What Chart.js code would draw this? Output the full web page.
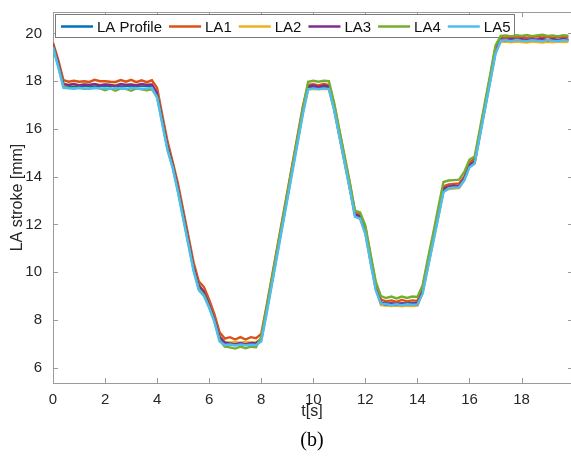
<!DOCTYPE html>
<html>
<head>
<meta charset="utf-8">
<script src="https://cdn.jsdelivr.net/npm/chart.js@4.4.1/dist/chart.umd.min.js"></script>
<style>
  html, body { margin: 0; padding: 0; background: #fff; }
  #wrap { width: 571px; height: 461px; position: relative; }
</style>
</head>
<body>
<div id="wrap"><canvas id="chart" width="571" height="461"></canvas></div>
<script>
// Tiempo de muestreo [s]
const tiempo = [
  0.0, 0.2, 0.4, 0.6, 0.8, 1.0, 1.2, 1.4, 1.6, 1.8,
  2.0, 2.2, 2.4, 2.6, 2.8, 3.0, 3.2, 3.4, 3.6, 3.8,
  4.0, 4.2, 4.4, 4.6, 4.8, 5.0, 5.2, 5.4, 5.6, 5.8,
  6.0, 6.2, 6.4, 6.6, 6.8, 7.0, 7.2, 7.4, 7.6, 7.8,
  8.0, 8.2, 8.4, 8.6, 8.8, 9.0, 9.2, 9.4, 9.6, 9.8,
  10.0, 10.2, 10.4, 10.6, 10.8, 11.0, 11.2, 11.4, 11.6, 11.8,
  12.0, 12.2, 12.4, 12.6, 12.8, 13.0, 13.2, 13.4, 13.6, 13.8,
  14.0, 14.2, 14.4, 14.6, 14.8, 15.0, 15.2, 15.4, 15.6, 15.8,
  16.0, 16.2, 16.4, 16.6, 16.8, 17.0, 17.2, 17.4, 17.6, 17.8,
  18.0, 18.2, 18.4, 18.6, 18.8, 19.0, 19.2, 19.4, 19.6, 19.8
];

const laProfile = [
  19.50, 18.75, 17.90, 17.80, 17.80, 17.80, 17.82, 17.80, 17.80, 17.82,
  17.80, 17.80, 17.82, 17.80, 17.80, 17.82, 17.80, 17.80, 17.82, 17.80,
  17.45, 16.35, 15.25, 14.45, 13.50, 12.40, 11.30, 10.20, 9.42, 9.15,
  8.65, 8.04, 7.28, 7.03, 7.02, 7.00, 7.03, 7.00, 7.02, 7.00,
  7.20, 8.35, 9.55, 10.75, 11.95, 13.15, 14.35, 15.55, 16.75, 17.72,
  17.75, 17.72, 17.75, 17.72, 16.85, 15.75, 14.65, 13.55, 12.45, 12.30,
  11.70, 10.50, 9.35, 8.72, 8.70, 8.68, 8.70, 8.68, 8.70, 8.70,
  8.70, 9.22, 10.30, 11.35, 12.40, 13.45, 13.58, 13.60, 13.62, 13.90,
  14.50, 14.65, 15.80, 16.95, 18.10, 19.25, 19.72, 19.74, 19.72, 19.75,
  19.72, 19.74, 19.72, 19.75, 19.73, 19.72, 19.75, 19.73, 19.74, 19.72
];

const la1 = [
  19.62, 18.90, 18.05, 17.98, 18.02, 17.98, 18.00, 17.97, 18.06, 18.00,
  18.00, 17.98, 17.97, 18.05, 17.98, 18.06, 17.96, 18.04, 17.96, 18.04,
  17.72, 16.58, 15.48, 14.62, 13.72, 12.62, 11.52, 10.42, 9.62, 9.38,
  8.85, 8.25, 7.48, 7.22, 7.28, 7.18, 7.28, 7.18, 7.28, 7.24,
  7.42, 8.55, 9.75, 10.95, 12.15, 13.35, 14.55, 15.75, 16.95, 17.85,
  17.88, 17.82, 17.88, 17.84, 17.02, 15.92, 14.82, 13.72, 12.55, 12.42,
  11.88, 10.68, 9.52, 8.85, 8.78, 8.82, 8.76, 8.84, 8.78, 8.82,
  8.80, 9.35, 10.45, 11.50, 12.55, 13.60, 13.68, 13.70, 13.72, 14.00,
  14.60, 14.75, 15.90, 17.05, 18.22, 19.40, 19.85, 19.82, 19.87, 19.83,
  19.86, 19.82, 19.85, 19.88, 19.83, 19.86, 19.82, 19.87, 19.84, 19.86
];

const la2 = [
  19.50, 18.70, 17.88, 17.85, 17.86, 17.84, 17.86, 17.85, 17.88, 17.84,
  17.86, 17.85, 17.84, 17.88, 17.85, 17.86, 17.84, 17.88, 17.85, 17.86,
  17.50, 16.40, 15.30, 14.48, 13.55, 12.45, 11.35, 10.25, 9.45, 9.18,
  8.68, 8.06, 7.30, 7.08, 7.06, 7.08, 7.05, 7.08, 7.06, 7.08,
  7.15, 8.30, 9.50, 10.70, 11.90, 13.10, 14.30, 15.50, 16.70, 17.65,
  17.68, 17.66, 17.68, 17.66, 16.80, 15.70, 14.60, 13.50, 12.40, 12.22,
  11.62, 10.42, 9.28, 8.62, 8.60, 8.58, 8.60, 8.57, 8.60, 8.58,
  8.60, 9.12, 10.20, 11.25, 12.30, 13.38, 13.48, 13.50, 13.52, 13.85,
  14.40, 14.55, 15.72, 16.88, 18.02, 19.18, 19.64, 19.66, 19.63, 19.66,
  19.64, 19.62, 19.66, 19.64, 19.62, 19.65, 19.63, 19.66, 19.64, 19.65
];

const la3 = [
  19.52, 18.76, 17.88, 17.84, 17.88, 17.82, 17.86, 17.84, 17.88, 17.82,
  17.86, 17.84, 17.80, 17.88, 17.84, 17.86, 17.82, 17.88, 17.84, 17.86,
  17.50, 16.40, 15.30, 14.50, 13.55, 12.45, 11.35, 10.25, 9.45, 9.18,
  8.66, 8.05, 7.30, 7.05, 7.02, 6.98, 7.04, 6.98, 7.04, 7.02,
  7.22, 8.38, 9.58, 10.78, 11.98, 13.18, 14.38, 15.58, 16.78, 17.78,
  17.82, 17.76, 17.82, 17.78, 16.90, 15.80, 14.70, 13.60, 12.40, 12.34,
  11.72, 10.52, 9.36, 8.70, 8.64, 8.70, 8.64, 8.70, 8.66, 8.68,
  8.66, 9.20, 10.30, 11.35, 12.42, 13.50, 13.58, 13.62, 13.60, 13.92,
  14.48, 14.62, 15.80, 16.95, 18.12, 19.28, 19.76, 19.72, 19.78, 19.73,
  19.77, 19.72, 19.76, 19.74, 19.78, 19.72, 19.76, 19.73, 19.77, 19.74
];

const la4 = [
  19.45, 18.65, 17.78, 17.72, 17.70, 17.72, 17.68, 17.70, 17.72, 17.70,
  17.62, 17.70, 17.60, 17.70, 17.68, 17.60, 17.70, 17.66, 17.62, 17.66,
  17.35, 16.25, 15.15, 14.40, 13.40, 12.30, 11.20, 10.10, 9.30, 9.05,
  8.55, 7.95, 7.15, 6.88, 6.85, 6.80, 6.88, 6.82, 6.88, 6.86,
  7.30, 8.48, 9.68, 10.88, 12.08, 13.28, 14.48, 15.68, 16.88, 17.98,
  18.02, 17.98, 18.02, 18.00, 17.10, 15.98, 14.88, 13.78, 12.58, 12.50,
  11.95, 10.75, 9.60, 9.00, 8.92, 8.98, 8.90, 8.98, 8.92, 8.98,
  8.96, 9.45, 10.55, 11.60, 12.70, 13.78, 13.84, 13.86, 13.88, 14.20,
  14.72, 14.85, 16.00, 17.15, 18.30, 19.50, 19.90, 19.92, 19.88, 19.93,
  19.90, 19.94, 19.89, 19.92, 19.95, 19.90, 19.92, 19.88, 19.93, 19.91
];

const la5 = [
  19.40, 18.60, 17.72, 17.70, 17.68, 17.72, 17.70, 17.68, 17.72, 17.70,
  17.70, 17.68, 17.72, 17.70, 17.68, 17.72, 17.70, 17.68, 17.70, 17.72,
  17.30, 16.20, 15.10, 14.35, 13.35, 12.25, 11.15, 10.05, 9.25, 9.00,
  8.50, 7.92, 7.10, 6.95, 6.97, 6.93, 6.97, 6.94, 6.96, 6.95,
  7.10, 8.22, 9.42, 10.62, 11.82, 13.02, 14.22, 15.42, 16.62, 17.66,
  17.70, 17.67, 17.70, 17.67, 16.80, 15.70, 14.60, 13.50, 12.32, 12.25,
  11.60, 10.40, 9.25, 8.68, 8.66, 8.62, 8.66, 8.62, 8.66, 8.64,
  8.65, 9.10, 10.18, 11.22, 12.28, 13.35, 13.52, 13.55, 13.56, 13.85,
  14.40, 14.55, 15.70, 16.85, 18.00, 19.15, 19.70, 19.72, 19.68, 19.73,
  19.70, 19.68, 19.72, 19.70, 19.68, 19.73, 19.70, 19.68, 19.72, 19.70
];

const etiquetas = ["LA Profile", "LA1", "LA2", "LA3", "LA4", "LA5"];
const colores   = ["#0072BD", "#D95319", "#EDB120", "#7E2F8E", "#77AC30", "#4DBEEE"];
const xTicks = [0, 2, 4, 6, 8, 10, 12, 14, 16, 18];
const yTicks = [6, 8, 10, 12, 14, 16, 18, 20];

const FONT = "'Liberation Sans', Arial, sans-serif";
const AXIS = "#9a9a9a";

// ── Ejes tipo MATLAB: caja, ticks hacia dentro y leyenda ─────────────────────
const matlabAxes = {
  id: "matlabAxes",
  beforeDatasetsDraw(chart) {
    const { ctx, chartArea: a, scales: { x, y } } = chart;
    ctx.save();
    ctx.strokeStyle = AXIS;
    ctx.lineWidth = 1;
    ctx.strokeRect(Math.round(a.left) + 0.5, Math.round(a.top) + 0.5,
                   Math.round(a.right - a.left) + 4, Math.round(a.bottom - a.top));
    ctx.beginPath();
    x.ticks.forEach(t => {
      const px = Math.round(x.getPixelForValue(t.value)) + 0.5;
      ctx.moveTo(px, a.bottom); ctx.lineTo(px, a.bottom - 5);
      ctx.moveTo(px, a.top);    ctx.lineTo(px, a.top + 5);
    });
    y.ticks.forEach(t => {
      const py = Math.round(y.getPixelForValue(t.value)) + 0.5;
      ctx.moveTo(a.left, py);  ctx.lineTo(a.left + 5, py);
      ctx.moveTo(a.right + 2, py); ctx.lineTo(a.right - 3, py);
    });
    ctx.stroke();

    // Leyenda horizontal
    ctx.font = "15px " + FONT;
    let px = 61;
    const items = chart.data.datasets.map(ds => {
      const it = { x: px, label: ds.label, color: ds.borderColor };
      px = px + 36 + ctx.measureText(ds.label).width + 7;
      return it;
    });
    const boxL = 55.5, boxT = 14.5, boxB = 37.5;
    const boxR = Math.round(px - 3) + 0.5;
    ctx.fillStyle = "#fff";
    ctx.fillRect(boxL, boxT, boxR - boxL, boxB - boxT);
    ctx.strokeStyle = "#7a7a7a";
    ctx.strokeRect(boxL, boxT, boxR - boxL, boxB - boxT);
    const cy = 26.5;
    items.forEach(it => {
      ctx.strokeStyle = it.color;
      ctx.lineWidth = 2.5;
      ctx.beginPath();
      ctx.moveTo(it.x, cy); ctx.lineTo(it.x + 32, cy);
      ctx.stroke();
      ctx.fillStyle = "#111";
      ctx.textBaseline = "middle";
      ctx.textAlign = "left";
      ctx.fillText(it.label, it.x + 36, cy + 1);
    });
    ctx.restore();
  },
  afterDraw(chart) {
    const { ctx } = chart;
    ctx.save();
    ctx.font = "20px 'Liberation Serif', 'Times New Roman', serif";
    ctx.fillStyle = "#000";
    ctx.textAlign = "center";
    ctx.textBaseline = "middle";
    ctx.fillText("(b)", 312, 441);
    ctx.restore();
  }
};

const datasets = [laProfile, la1, la2, la3, la4, la5].map((serie, i) => ({
  label:       etiquetas[i],
  data:        serie.map((v, k) => ({ x: tiempo[k], y: v })),
  borderColor: colores[i],
  borderWidth: 2.4,
  pointRadius: 0,
  tension:     0,
  fill:        false,
  order:       6 - i, // LA5 encima
}));

new Chart(document.getElementById("chart"), {
  type: "line",
  data: { datasets },
  options: {
    responsive: false,
    animation:  false,
    events:     [],
    layout: { padding: { top: 7, left: 0, right: 0, bottom: 0 } },
    plugins: {
      legend:  { display: false },
      tooltip: { enabled: false },
    },
    scales: {
      x: {
        type: "linear",
        min: 0,
        max: 19.9,
        afterBuildTicks: s => { s.ticks = xTicks.map(v => ({ value: v })); },
        afterFit: s => { s.height = 78; },
        grid:   { display: false },
        border: { display: false },
        ticks: {
          font: { family: FONT, size: 15 },
          color: "#262626",
          padding: 0,
          maxRotation: 0,
          autoSkip: false,
        },
        title: {
          display: true,
          text: "t[s]",
          font: { family: FONT, size: 16 },
          color: "#262626",
          padding: { top: 0, bottom: 40 },
        },
      },
      y: {
        min: 5.36,
        max: 20.9,
        afterBuildTicks: s => { s.ticks = yTicks.map(v => ({ value: v })); },
        afterFit: s => { s.width = 53; },
        grid:   { display: false },
        border: { display: false },
        ticks: {
          font: { family: FONT, size: 15 },
          color: "#262626",
          padding: 3,
        },
        title: {
          display: true,
          text: "LA stroke [mm]",
          font: { family: FONT, size: 16 },
          color: "#262626",
          padding: { top: 8, bottom: 0 },
        },
      },
    },
  },
  plugins: [matlabAxes],
});
</script>
</body>
</html>
